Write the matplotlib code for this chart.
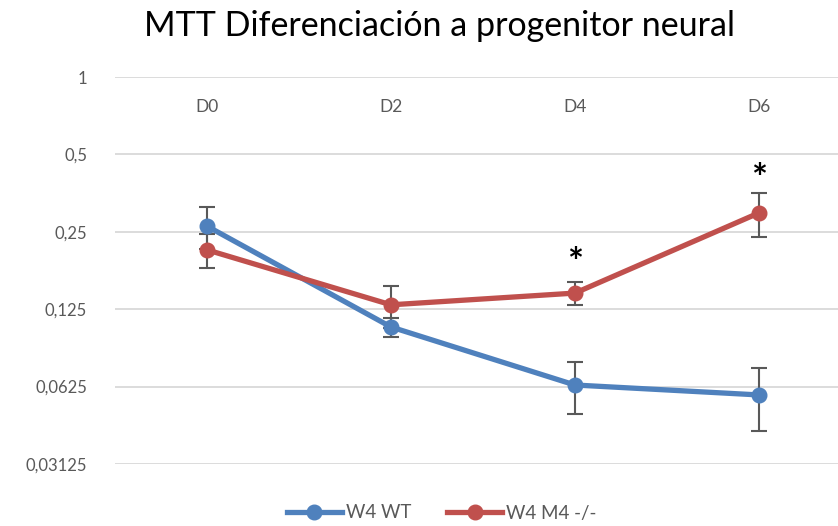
import matplotlib
matplotlib.use('Agg')
import matplotlib.pyplot as plt
from matplotlib.lines import Line2D
from matplotlib.ticker import FixedLocator, FixedFormatter, NullLocator

plt.rcParams['font.family'] = ['Lato', 'DejaVu Sans']

# Datos
dias = ['D0', 'D2', 'D4', 'D6']
wt = [0.263, 0.1066, 0.0634, 0.058]
wt_err = [0.049, 0.009, 0.0146, 0.016]
m4 = [0.2127, 0.130, 0.1444, 0.296]
m4_err = [0.032, 0.024, 0.015, 0.058]
# asteriscos de significancia (indice del dia, altura)
sig_idx = [2, 3]
sig_y = [0.187, 0.397]

ticks_y = [0.03125, 0.0625, 0.125, 0.25, 0.5, 1]
ticks_txt = ['0,03125', '0,0625', '0,125', '0,25', '0,5', '1']

azul = '#4F81BD'
rojo = '#C0504D'
gris = '#595959'

fig = plt.figure(figsize=(8.38, 5.26), dpi=100)
ax = fig.add_axes([115 / 838, 1 - 464 / 526, 723 / 838, 387 / 526])

x = list(range(len(dias)))

ax.errorbar(x, wt, yerr=wt_err, color=azul, lw=3.8, marker='o', ms=10.5,
            ecolor=gris, elinewidth=1.5, capsize=6, capthick=1.5, zorder=3)
ax.errorbar(x, m4, yerr=m4_err, color=rojo, lw=3.8, marker='o', ms=10.5,
            ecolor=gris, elinewidth=1.5, capsize=6, capthick=1.5, zorder=3)

for i, yv in zip(sig_idx, sig_y):
    ax.text(x[i], yv, '*', ha='center', va='center', fontsize=27,
            fontweight='bold', color='black')

ax.set_yscale('log', base=2)
ax.set_ylim(0.03125, 1)
ax.set_xlim(-0.5, 3.43)
ax.yaxis.set_major_locator(FixedLocator(ticks_y))
ax.yaxis.set_major_formatter(FixedFormatter(ticks_txt))
ax.yaxis.set_minor_locator(NullLocator())
ax.grid(axis='y', color='#D9D9D9', lw=1.3)
ax.set_axisbelow(True)

ax.set_xticks(x)
ax.set_xticklabels(dias)
ax.tick_params(axis='x', top=True, labeltop=True, bottom=False,
               labelbottom=False, length=0, pad=-27, labelsize=12.5,
               labelcolor=gris)
ax.tick_params(axis='y', length=0, pad=20, labelsize=12, labelcolor=gris)
for s in ax.spines.values():
    s.set_visible(False)

fig.suptitle('MTT Diferenciación a progenitor neural', x=439 / 838,
             y=1 - 26 / 526, va='center', fontsize=24.5)

# leyenda sin barras de error
handles = [Line2D([], [], color=azul, lw=3.8, marker='o', ms=10.5),
           Line2D([], [], color=rojo, lw=3.8, marker='o', ms=10.5)]
fig.legend(handles, ['W4 WT', 'W4 M4 -/-'], loc='center',
           bbox_to_anchor=(442 / 838, 1 - 513 / 526), ncol=2,
           frameon=False, fontsize=13.5, handlelength=2.9, columnspacing=1.9,
           handletextpad=0.25, labelcolor=gris)

fig.savefig('out.png', dpi=100)
